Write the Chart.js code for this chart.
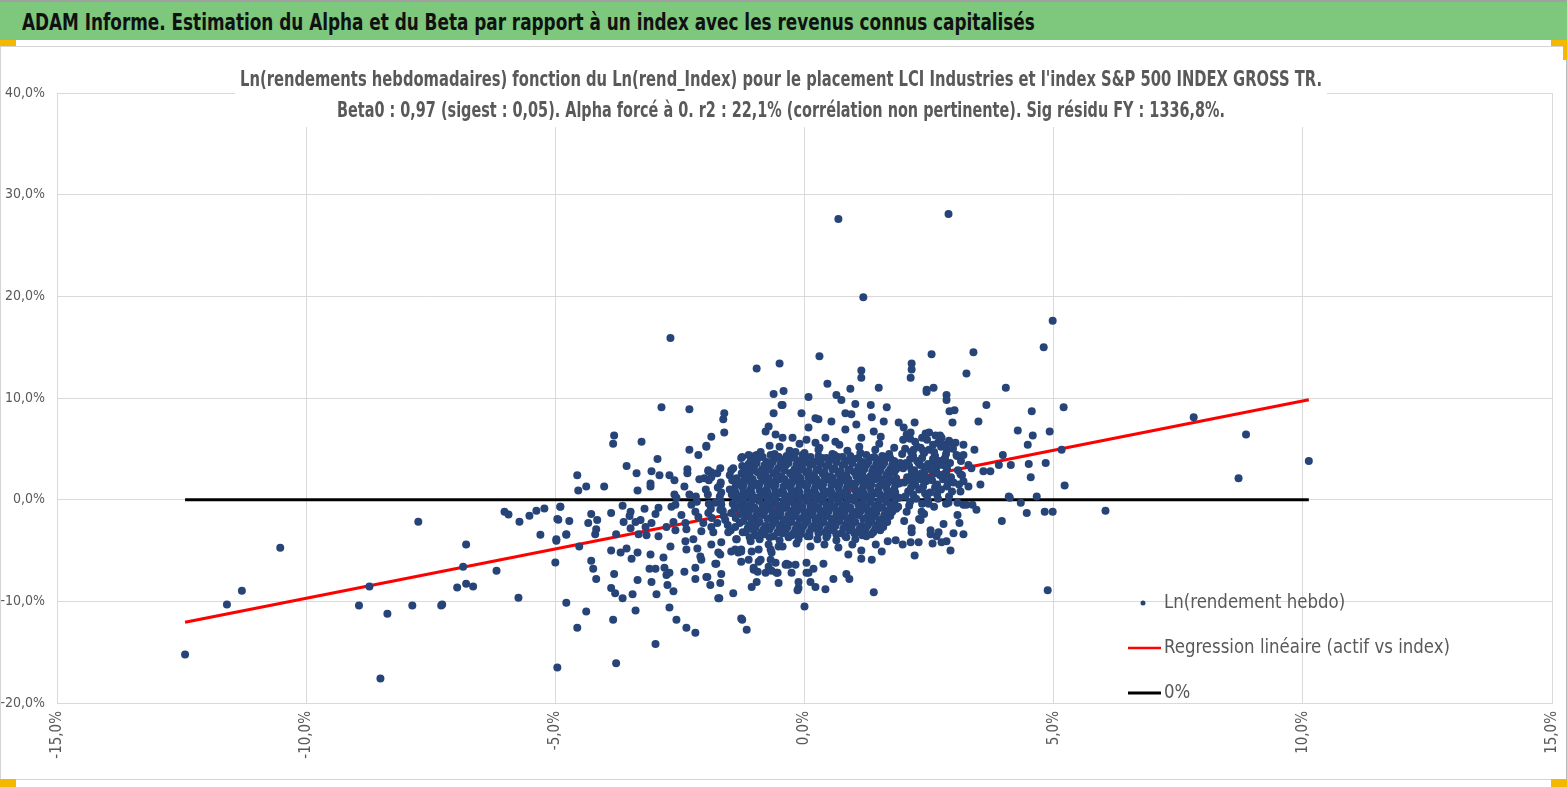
<!DOCTYPE html>
<html>
<head>
<meta charset="utf-8">
<script src="https://cdn.jsdelivr.net/npm/chart.js@4.4.1/dist/chart.umd.min.js"></script>
<style>
body{margin:0;width:1567px;height:787px;overflow:hidden;background:#fff;font-family:"Liberation Sans Narrow","DejaVu Sans Condensed",sans-serif}
#head{position:absolute;left:0;top:0;width:1567px;height:40px;background:#7ec87e;border-top:2px solid #a0a0a0;box-sizing:border-box}
#head span{position:absolute;left:22px;top:7px;font-weight:bold;font-size:23px;color:#111;white-space:nowrap;transform-origin:0 0}
#frame{position:absolute;left:0;top:46px;width:1565px;height:732px;border:1px solid #d4d4d4;border-right-color:#bbb}
#box{position:absolute;left:0;top:44px;width:1567px;height:734px}
.h{position:absolute;background:#f5b800}
</style>
</head>
<body>
<div id="head"><span id="headTxt">ADAM Informe. Estimation du Alpha et du Beta par rapport à un index avec les revenus connus capitalisés</span></div>
<div id="frame"></div>
<div class="h" style="left:0;top:40px;width:16px;height:6px"></div>
<div class="h" style="left:1551px;top:40px;width:16px;height:6px"></div>
<div class="h" style="left:1563px;top:40px;width:4px;height:20px"></div>
<div class="h" style="left:0;top:779px;width:16px;height:8px"></div>
<div class="h" style="left:1551px;top:779px;width:16px;height:8px"></div>
<div id="box"><canvas id="c"></canvas></div>
<script>
// Ln(rend index) %, Ln(rend actif) % : points, par zone
var tailPoints = [[-12.43,-15.24],[-11.59,-10.32],[-11.29,-8.95],[-10.52,-4.72],[-8.94,-10.42],[-8.73,-8.55],[-8.51,-17.6],[-8.37,-11.21],[-7.87,-10.42],[-7.75,-2.16],[-7.29,-10.42],[-7.27,-10.32],[-6.97,-8.65],[-6.85,-6.59],[-6.79,-4.42],[-6.79,-8.26],[-6.65,-8.55],[-6.18,-6.98],[-6.02,-1.18],[-5.94,-1.47],[-5.74,-9.64],[-5.72,-2.16],[-5.52,-1.57],[-5.38,-1.08],[-5.3,-3.44],[-5.22,-0.88],[-5.0,-6.19],[-4.98,-4.03],[-4.96,-16.52],[-4.94,-1.97],[-4.9,-0.69],[-4.78,-3.44],[-4.78,-10.13]];

var midLeft = [[-2.69,15.9],[-0.96,12.9],[-0.5,13.4],[-0.62,10.4],[-0.42,10.7],[-0.44,9.3],[0.08,10.1],[-2.87,9.1],[-2.31,8.9],[-1.61,8.5],[-1.63,7.9],[-1.61,6.6],[-1.87,6.2],[-3.82,6.3],[-3.84,5.5],[-3.27,5.7],[-0.62,8.5],[-0.06,8.5],[-0.72,7.2],[-0.78,6.7],[-0.58,6.4],[-0.44,6.1],[-0.24,6.1],[-0.7,5.3],[-1.97,5.3],[-2.13,4.4],[-2.31,4.9],[-2.95,4.0],[-3.57,3.3],[-3.37,2.6],[-3.07,2.8],[-2.91,2.4],[-2.71,2.4],[-2.61,1.9],[-2.35,2.6],[-2.35,3.0],[-2.11,2.0],[-4.56,2.4],[-4.54,0.9],[-4.38,1.3],[-4.02,1.3],[-3.35,0.9],[-3.09,1.6],[-3.09,1.3],[-2.41,1.3],[-2.61,0.5],[-2.57,0.2],[-2.31,0.5],[-2.01,2.1],[-1.93,2.8],[-1.87,2.7],[-1.69,3.1],[-1.47,2.9],[-1.25,3.3],[-1.12,3.2],[-0.96,4.4],[-1.25,4.2],[-1.06,4.2],[-1.69,1.5],[-1.67,0.7],[-1.43,0.8],[-1.33,1.5],
[-4.96,-1.9],[-4.9,-0.7],[-4.72,-2.1],[-4.98,-3.9],[-4.78,-3.4],[-4.52,-4.6],[-4.38,-11.0],[-4.56,-12.6],[-3.78,-16.1],[-2.99,-14.2],[-3.84,-11.8],[-3.39,-10.9],[-3.88,-8.7],[-3.8,-9.2],[-3.65,-9.7],[-3.45,-9.3],[-2.97,-9.3],[-2.71,-10.6],[-2.57,-11.8],[-2.37,-12.6],[-2.19,-13.1],[-1.25,-11.8],[-1.16,-12.8],[-1.73,-9.7],[-1.43,-9.2],[-1.06,-8.6],[-0.96,-8.1],[0.0,-10.5],[-0.12,-8.7],[-4.28,-6.0],[-4.24,-6.8],[-4.18,-7.8],[-3.82,-7.3],[-3.88,-5.0],[-3.69,-5.2],[-3.57,-4.8],[-3.47,-5.8],[-3.35,-5.2],[-3.09,-5.4],[-3.11,-6.8],[-2.99,-6.8],[-3.35,-7.9],[-3.07,-8.1],[-2.81,-6.7],[-2.77,-7.4],[-2.71,-7.2],[-2.75,-8.4],[-2.63,-9.0],[-2.41,-7.1],[-2.19,-6.7],[-2.19,-7.8],[-1.95,-7.6],[-1.89,-8.4],[-1.69,-8.2],[-1.67,-7.3],[-1.69,-5.4],[-1.79,-6.3],[-2.09,-5.6],[-2.07,-5.9],[-2.15,-4.8],[-2.37,-4.9],[-2.23,-3.9],[-2.39,-4.1],[-2.69,-4.6],[-2.83,-5.7],
[-4.18,-2.9],[-4.2,-3.4],[-4.34,-2.3],[-4.28,-1.4],[-4.16,-2.0],[-3.88,-1.3],[-3.65,-0.6],[-3.49,-1.2],[-3.51,-1.6],[-3.63,-2.2],[-3.78,-3.4],[-3.49,-2.8],[-3.39,-2.2],[-3.29,-2.0],[-3.21,-0.9],[-3.19,-2.7],[-3.07,-2.3],[-2.99,-1.4],[-2.93,-0.8],[-3.33,-3.4],[-3.17,-3.5],[-2.93,-3.6],[-2.77,-2.7],[-2.63,-2.2],[-2.59,-3.0],[-2.47,-1.5],[-2.39,-2.3],[-2.37,-2.9],[-2.27,-0.5],[-2.19,-1.2],[-2.13,-1.7],[-2.03,-2.3],[-2.07,-3.1],[-1.93,-1.3],[-1.87,-2.7],[-1.83,-3.2],[-1.75,-2.3],[-1.69,-1.0],[-1.67,-0.5],[-1.79,-0.3],[-1.59,-2.0],[-1.53,-3.2],[-1.47,-1.3],[-1.39,-2.7],[-1.37,-3.9],[-1.33,-5.2],[-1.27,-4.9],[-1.18,-0.7],[-1.18,-3.2],[-1.12,-5.9],[-1.02,-6.9],[-0.92,-4.9],[-0.88,-5.9],[-0.78,-7.2],[-0.72,-6.6],[-0.66,-5.2],[-0.58,-6.2],[-0.52,-4.6],[-0.56,-7.2],[-0.38,-6.4],[-0.32,-6.4],[-0.18,-6.4],[-0.12,-8.1],[0.04,-7.2],[-0.52,-8.2],[-2.67,-0.7],[-2.59,-0.5]];

var coreCloud = [[-0.5,5.2],[-0.1,5.5],[0.3,5.1],[0.7,5.4],[1.1,5.2],[1.5,5.5],[1.8,5.1],
[-0.88,4.7],[-0.6,4.5],[-0.3,4.8],[0.0,4.6],[0.28,4.9],[0.56,4.5],[0.86,4.8],[1.12,4.6],[1.42,4.9],[1.7,4.5],
[-1.08,3.8],[-0.93,4.1],[-0.76,3.7],[-0.61,4.0],[-0.44,3.9],[-0.29,4.2],[-0.12,3.8],[0.03,4.0],[0.2,3.7],[0.35,4.1],[0.52,3.9],[0.67,4.2],[0.84,3.8],[0.99,4.0],[1.16,3.7],[1.31,4.1],[1.48,3.9],[1.63,4.2],[1.8,3.8],
[-1.17,3.1],[-1.01,3.3],[-0.85,3.0],[-0.69,3.3],[-0.53,3.1],[-0.37,3.4],[-0.2,3.0],[-0.05,3.2],[0.11,3.4],[0.28,3.0],[0.43,3.3],[0.6,3.1],[0.76,3.4],[0.91,3.0],[1.08,3.2],[1.24,3.4],[1.39,3.1],[1.56,3.3],[1.72,3.0],[1.88,3.2],
[-1.26,2.6],[-1.1,2.4],[-0.94,2.7],[-0.78,2.4],[-0.62,2.6],[-0.46,2.3],[-0.29,2.6],[-0.13,2.4],[0.03,2.7],[0.19,2.4],[0.36,2.6],[0.52,2.3],[0.68,2.6],[0.84,2.4],[1.0,2.7],[1.16,2.5],[1.32,2.3],[1.48,2.6],[1.64,2.4],[1.8,2.7],
[-1.3,1.7],[-1.14,1.9],[-0.98,1.6],[-0.82,1.9],[-0.66,1.7],[-0.5,2.0],[-0.34,1.7],[-0.18,1.9],[-0.02,1.6],[0.14,1.9],[0.3,1.7],[0.46,2.0],[0.62,1.7],[0.78,1.9],[0.94,1.6],[1.1,1.9],[1.26,1.7],[1.42,2.0],[1.58,1.7],[1.74,1.9],[1.9,1.6],
[-1.24,1.2],[-1.08,1.0],[-0.92,1.3],[-0.76,1.0],[-0.6,1.2],[-0.44,0.9],[-0.28,1.2],[-0.12,1.0],[0.04,1.3],[0.2,1.0],[0.36,1.2],[0.52,0.9],[0.68,1.2],[0.84,1.0],[1.0,1.3],[1.16,1.0],[1.32,1.2],[1.48,0.9],[1.64,1.2],[1.8,1.0],
[-1.3,0.3],[-1.14,0.5],[-0.98,0.2],[-0.82,0.5],[-0.66,0.3],[-0.5,0.6],[-0.34,0.3],[-0.18,0.5],[-0.02,0.2],[0.14,0.5],[0.3,0.3],[0.46,0.6],[0.62,0.3],[0.78,0.5],[0.94,0.2],[1.1,0.5],[1.26,0.3],[1.42,0.6],[1.58,0.3],[1.74,0.5],[1.9,0.2],
[-1.24,-0.2],[-1.08,-0.4],[-0.92,-0.1],[-0.76,-0.4],[-0.6,-0.2],[-0.44,-0.5],[-0.28,-0.2],[-0.12,-0.4],[0.04,-0.1],[0.2,-0.4],[0.36,-0.2],[0.52,-0.5],[0.68,-0.2],[0.84,-0.4],[1.0,-0.1],[1.16,-0.4],[1.32,-0.2],[1.48,-0.5],[1.64,-0.2],[1.8,-0.4],
[-1.2,-1.1],[-1.04,-0.9],[-0.88,-1.2],[-0.72,-0.9],[-0.56,-1.1],[-0.4,-0.8],[-0.24,-1.1],[-0.08,-0.9],[0.08,-1.2],[0.24,-0.9],[0.4,-1.1],[0.56,-0.8],[0.72,-1.1],[0.88,-0.9],[1.04,-1.2],[1.2,-0.9],[1.36,-1.1],[1.52,-0.8],[1.68,-1.1],[1.84,-0.9],
[-1.16,-1.6],[-1.0,-1.8],[-0.84,-1.5],[-0.68,-1.8],[-0.52,-1.6],[-0.36,-1.9],[-0.2,-1.6],[-0.04,-1.8],[0.12,-1.5],[0.28,-1.8],[0.44,-1.6],[0.6,-1.9],[0.76,-1.6],[0.92,-1.8],[1.08,-1.5],[1.24,-1.8],[1.4,-1.6],[1.56,-1.9],[1.72,-1.6],
[-1.1,-2.5],[-0.94,-2.3],[-0.78,-2.6],[-0.62,-2.3],[-0.46,-2.5],[-0.3,-2.2],[-0.14,-2.5],[0.02,-2.3],[0.18,-2.6],[0.34,-2.3],[0.5,-2.5],[0.66,-2.2],[0.82,-2.5],[0.98,-2.3],[1.14,-2.6],[1.3,-2.3],[1.46,-2.5],[1.62,-2.2],
[-1.02,-3.0],[-0.86,-3.2],[-0.7,-2.9],[-0.54,-3.2],[-0.38,-3.0],[-0.22,-3.3],[-0.06,-3.0],[0.1,-3.2],[0.26,-2.9],[0.42,-3.2],[0.58,-3.0],[0.74,-3.3],[0.9,-3.0],[1.06,-3.2],[1.22,-2.9],[1.38,-3.2],[1.52,-3.0],
[-0.9,-3.9],[-0.7,-3.7],[-0.5,-4.0],[-0.32,-3.7],[-0.12,-3.9],[0.06,-3.6],[0.26,-3.9],[0.44,-3.7],[0.64,-4.0],[0.84,-3.7],[1.02,-3.9],[1.24,-3.6],
[-0.72,-4.4],[-0.44,-4.6],[-0.16,-4.3],[0.12,-4.6],[0.4,-4.4],[0.68,-4.7],[0.96,-4.4],
[2.05,6.4],[2.5,6.6],[2.72,6.3],[1.98,5.9],[2.22,5.7],[2.46,5.9],[2.68,5.6],[2.9,5.8],[2.02,5.0],[2.26,5.2],[2.5,4.9],[2.74,5.2],[2.98,5.0],[1.96,4.5],[2.18,4.3],[2.4,4.6],[2.62,4.3],[2.84,4.5],[3.06,4.3],[2.04,3.6],[2.26,3.8],[2.48,3.5],[2.7,3.8],[2.92,3.6],[3.14,3.8],[1.98,3.1],[2.2,2.9],[2.42,3.2],[2.64,2.9],[2.86,3.1],[3.08,2.9],[2.06,2.2],[2.28,2.4],[2.5,2.1],[2.72,2.4],[2.94,2.2],[3.16,2.4],[2.0,1.7],[2.22,1.5],[2.44,1.8],[2.66,1.5],[2.88,1.7],[3.1,1.5],[2.08,0.8],[2.3,1.0],[2.52,0.7],[2.74,1.0],[2.96,0.8],[2.02,0.3],[2.24,0.1],[2.46,0.4],[2.68,0.1],[2.9,0.3],[2.1,-0.6],[2.36,-0.4],[2.6,-0.7],[2.84,-0.4],[2.05,-1.2],[2.4,-1.4],[2.0,-2.1],[2.3,-1.9],
[-1.5,2.4],[-1.75,2.6],[-1.45,1.9],[-1.68,1.7],[-1.92,1.9],[-1.5,1.0],[-1.74,1.2],[-1.98,1.0],[-1.46,0.5],[-1.7,0.3],[-1.94,0.5],[-2.18,0.3],[-1.44,-0.4],[-1.68,-0.2],[-1.92,-0.4],[-2.16,-0.2],[-1.4,-0.9],[-1.64,-1.1],[-1.88,-0.9],[-1.38,-1.8],[-1.62,-1.6],[-1.86,-1.8],[-1.3,-2.3],[-1.54,-2.5],[-1.24,-3.2],[-1.48,-3.0],[-1.1,-3.7],[-1.36,-3.9]];

// le coeur du nuage est presque plein : points intercales
var coreFill = [[-1.0,4.3],[-0.84,4.2],[-0.68,4.4],[-0.52,4.2],[-0.36,4.3],[-0.2,4.1],[-0.04,4.4],[0.12,4.2],[0.28,4.3],[0.44,4.1],[0.6,4.4],[0.76,4.2],[0.92,4.3],[1.08,4.1],[1.24,4.4],[1.4,4.2],[1.56,4.3],[1.72,4.1],
[-1.12,3.5],[-0.96,3.6],[-0.8,3.4],[-0.64,3.7],[-0.48,3.5],[-0.32,3.6],[-0.16,3.4],[0.0,3.7],[0.16,3.5],[0.32,3.6],[0.48,3.4],[0.64,3.7],[0.8,3.5],[0.96,3.6],[1.12,3.4],[1.28,3.7],[1.44,3.5],[1.6,3.6],[1.76,3.4],[1.92,3.6],
[-1.2,2.8],[-1.04,2.9],[-0.88,2.7],[-0.72,3.0],[-0.56,2.8],[-0.4,2.9],[-0.24,2.7],[-0.08,3.0],[0.08,2.8],[0.24,2.9],[0.4,2.7],[0.56,3.0],[0.72,2.8],[0.88,2.9],[1.04,2.7],[1.2,3.0],[1.36,2.8],[1.52,2.9],[1.68,2.7],[1.84,3.0],
[-1.36,2.1],[-1.2,2.2],[-1.04,2.0],[-0.88,2.3],[-0.72,2.1],[-0.56,2.2],[-0.4,2.0],[-0.24,2.3],[-0.08,2.1],[0.08,2.2],[0.24,2.0],[0.4,2.3],[0.56,2.1],[0.72,2.2],[0.88,2.0],[1.04,2.3],[1.2,2.1],[1.36,2.2],[1.52,2.0],[1.68,2.3],[1.84,2.1],
[-1.38,1.4],[-1.22,1.5],[-1.06,1.3],[-0.9,1.6],[-0.74,1.4],[-0.58,1.5],[-0.42,1.3],[-0.26,1.6],[-0.1,1.4],[0.06,1.5],[0.22,1.3],[0.38,1.6],[0.54,1.4],[0.7,1.5],[0.86,1.3],[1.02,1.6],[1.18,1.4],[1.34,1.5],[1.5,1.3],[1.66,1.6],[1.82,1.4],
[-1.38,0.7],[-1.22,0.8],[-1.06,0.6],[-0.9,0.9],[-0.74,0.7],[-0.58,0.8],[-0.42,0.6],[-0.26,0.9],[-0.1,0.7],[0.06,0.8],[0.22,0.6],[0.38,0.9],[0.54,0.7],[0.7,0.8],[0.86,0.6],[1.02,0.9],[1.18,0.7],[1.34,0.8],[1.5,0.6],[1.66,0.9],[1.82,0.7],
[-1.38,0.0],[-1.22,0.1],[-1.06,-0.1],[-0.9,0.2],[-0.74,0.0],[-0.58,0.1],[-0.42,-0.1],[-0.26,0.2],[-0.1,0.0],[0.06,0.1],[0.22,-0.1],[0.38,0.2],[0.54,0.0],[0.7,0.1],[0.86,-0.1],[1.02,0.2],[1.18,0.0],[1.34,0.1],[1.5,-0.1],[1.66,0.2],[1.82,0.0],
[-1.32,-0.7],[-1.16,-0.6],[-1.0,-0.8],[-0.84,-0.5],[-0.68,-0.7],[-0.52,-0.6],[-0.36,-0.8],[-0.2,-0.5],[-0.04,-0.7],[0.12,-0.6],[0.28,-0.8],[0.44,-0.5],[0.6,-0.7],[0.76,-0.6],[0.92,-0.8],[1.08,-0.5],[1.24,-0.7],[1.4,-0.6],[1.56,-0.8],[1.72,-0.5],[1.88,-0.7],
[-1.28,-1.4],[-1.12,-1.3],[-0.96,-1.5],[-0.8,-1.2],[-0.64,-1.4],[-0.48,-1.3],[-0.32,-1.5],[-0.16,-1.2],[0.0,-1.4],[0.16,-1.3],[0.32,-1.5],[0.48,-1.2],[0.64,-1.4],[0.8,-1.3],[0.96,-1.5],[1.12,-1.2],[1.28,-1.4],[1.44,-1.3],[1.6,-1.5],[1.76,-1.2],
[-1.22,-2.1],[-1.06,-2.0],[-0.9,-2.2],[-0.74,-1.9],[-0.58,-2.1],[-0.42,-2.0],[-0.26,-2.2],[-0.1,-1.9],[0.06,-2.1],[0.22,-2.0],[0.38,-2.2],[0.54,-1.9],[0.7,-2.1],[0.86,-2.0],[1.02,-2.2],[1.18,-1.9],[1.34,-2.1],[1.5,-2.0],[1.66,-2.2],
[-1.14,-2.8],[-0.98,-2.7],[-0.82,-2.9],[-0.66,-2.6],[-0.5,-2.8],[-0.34,-2.7],[-0.18,-2.9],[-0.02,-2.6],[0.14,-2.8],[0.3,-2.7],[0.46,-2.9],[0.62,-2.6],[0.78,-2.8],[0.94,-2.7],[1.1,-2.9],[1.26,-2.6],[1.42,-2.8],[1.58,-2.7],
[-0.98,-3.5],[-0.8,-3.4],[-0.62,-3.6],[-0.44,-3.3],[-0.26,-3.5],[-0.08,-3.4],[0.1,-3.6],[0.28,-3.3],[0.46,-3.5],[0.64,-3.4],[0.82,-3.6],[1.0,-3.3],[1.16,-3.5],[1.34,-3.4],
[2.12,6.0],[2.36,6.1],[2.58,5.4],[2.8,5.4],[2.14,4.7],[2.38,4.8],[2.6,4.7],[2.86,4.9],[2.12,4.0],[2.36,4.1],[2.58,4.0],[2.82,4.1],[2.1,3.3],[2.32,3.4],[2.56,3.3],[2.78,3.4],[2.16,2.6],[2.4,2.7],[2.62,2.6],[2.84,2.7],[2.12,1.9],[2.34,2.0],[2.56,1.9],[2.78,2.0],[2.14,1.2],[2.38,1.3],[2.62,1.2],[2.86,1.3],[2.18,0.5],[2.42,0.6],[2.66,0.5],[2.12,-0.2],[2.48,-0.1]];

var upperCenter = [[0.46,11.4],[0.92,10.9],[0.64,10.3],[0.74,9.8],[1.49,11.0],[-0.46,9.3],[1.02,9.4],[1.33,9.3],[1.65,9.1],[0.22,8.0],[0.28,7.9],[0.54,7.7],[0.82,8.5],[0.94,8.4],[1.04,7.4],[1.35,8.1],[1.59,7.7],[0.08,7.1],[0.82,6.9],[1.39,6.7],[-1.97,5.2],[0.04,5.9],[0.22,5.6],[0.42,6.1],[0.62,5.7],[1.14,6.1],[1.53,6.2],[-1.12,4.4],[-1.27,4.1],[-1.08,3.7],[-0.52,4.2],[-0.18,4.7],[-1.43,3.1],[-1.93,2.9],[-1.87,2.2],
[-1.87,-4.4],[-1.67,-4.2],[-1.73,-5.2],[-1.77,-6.3],[-1.47,-5.1],[-1.39,-4.9],[-1.27,-5.1],[-1.27,-6.1],[-1.08,-4.1],[-1.06,-5.1],[-1.02,-6.7],[-0.92,-6.1],[-0.94,-7.1],[-0.68,-4.9],[-0.68,-5.9],[-0.66,-7.0],[-0.54,-7.2],[-0.36,-6.3],[-0.26,-7.2],[-0.14,-8.9],[0.04,-6.2],[0.08,-7.2],[0.18,-6.8],[0.12,-8.1],[0.22,-8.6],[0.42,-8.8],[0.38,-6.3],[0.58,-7.8],[0.84,-7.3],[0.9,-7.8],[0.88,-5.4],[1.14,-5.0],[1.14,-5.8],[1.35,-5.9],[1.39,-9.1],[1.55,-5.1],[1.43,-4.4],[-1.27,-11.7],[-1.71,-9.7],[-1.97,-7.6]];

var rightSide = [[0.68,27.6],[2.89,28.1],[1.18,19.9],[4.98,17.6],[4.8,15.0],[0.3,14.1],[2.55,14.3],[3.39,14.5],[2.15,13.4],[2.15,12.8],[2.13,12.0],[1.14,12.7],[1.14,12.0],[3.25,12.4],[2.45,10.6],[4.04,11.0],[3.65,9.3],[4.56,8.7],[3.49,7.7],[4.28,6.8],[4.92,6.7],[4.58,6.3],[3.98,4.4],[4.48,5.4],[4.84,3.6],[4.54,2.2],[5.2,9.1],[7.81,8.1],[8.86,6.4],[10.12,3.8],[8.71,2.1],[5.16,4.9],[5.22,1.4],[4.82,-1.2],[4.98,-1.2],[6.04,-1.1],[4.88,-8.9],
[3.9,3.4],[4.14,3.4],[4.5,3.5],[3.73,2.8],[3.59,2.8],[3.53,1.5],[4.1,0.3],[4.12,0.2],[4.34,-0.3],[4.66,0.3],[4.46,-1.3],[3.96,-2.1],[3.45,-1.0],[3.19,-3.4],[2.93,-5.0],[2.85,-4.1],[2.99,-3.3],[2.79,-2.4],[2.69,-3.2],[2.65,-3.6],[2.75,-4.2],[2.53,-3.0],[2.53,-3.4],[2.57,-4.3],[2.21,-5.5],[2.13,-4.2],[1.97,-4.4],[1.83,-4.0],[1.67,-4.1],[2.29,-4.2],[2.15,-3.2],[2.15,-2.8],[2.35,-1.2],[2.33,-2.0],[3.07,-1.5],[3.11,-2.3],[3.19,-0.5],[3.25,-0.5],[3.37,-0.5],[2.49,-0.4],[2.89,-0.3],[3.07,-0.3],[2.45,10.8],[2.59,11.0],[2.85,10.3],[2.85,9.8],[2.91,8.7],[3.01,8.8],[2.97,7.6],[2.63,6.3],[2.75,6.1],[2.43,6.5],[2.93,5.6],[3.03,5.6],[3.19,5.4],[3.41,4.9],[3.19,4.4],[3.05,4.4],[3.29,3.4],[3.35,3.1],[3.13,2.5],[3.19,1.8],[3.29,1.3],[3.13,0.8],[2.99,1.7],[2.83,2.5],[2.69,3.4],[2.55,2.9],[2.59,4.0],[2.79,3.9],[2.35,2.6],[2.43,2.0],[2.21,7.6],[1.89,7.6],[1.99,7.1],[2.23,2.0],[2.15,2.9],[2.29,3.6],[2.33,5.1],[2.19,4.9],[2.13,6.6]];

// droite de regression (beta 0,97, alpha force a 0) et ligne 0%
var regX = [-12.43, 10.12];
var regY = [-12.06, 9.82];
var zeroY = [0, 0];

var xTicks = [-15, -10, -5, 0, 5, 10, 15];
var yTicks = [-20, -10, 0, 10, 20, 30, 40];

var titleLines = [
  "Ln(rendements hebdomadaires) fonction du Ln(rend_Index) pour le placement LCI Industries et l'index S&P 500 INDEX GROSS TR.",
  "Beta0 : 0,97 (sigest : 0,05). Alpha forcé à 0. r2 : 22,1% (corrélation non pertinente). Sig résidu FY : 1336,8%."
];
var legendLabels = ["Ln(rendement hebdo)", "Regression linéaire (actif vs index)", "0%"];

var FONT = '"Liberation Sans Narrow","DejaVu Sans Condensed",sans-serif';
var GREY = '#595959';

// le bandeau vert doit faire la meme largeur que l'original
var ht = document.getElementById('headTxt');
ht.style.transform = 'scaleX(' + (1013 / ht.offsetWidth) + ')';

function pct(v) { return v.toFixed(1).replace('.', ',') + '%'; }

var allPoints = tailPoints.concat(midLeft, coreCloud, coreFill, upperCenter, rightSide);

var titlePlugin = {
  id: 'excelTitle',
  afterDraw: function (chart) {
    var ctx = chart.ctx;
    ctx.save();
    ctx.fillStyle = '#fff';
    ctx.fillRect(235, 21, 1092, 62);
    ctx.fillStyle = GREY;
    ctx.textBaseline = 'middle';
    ctx.textAlign = 'center';
    ctx.font = 'bold 21px ' + FONT;
    var widths = [1082, 888];
    var ys = [37, 68];
    for (var i = 0; i < titleLines.length; i++) {
      var w = ctx.measureText(titleLines[i]).width;
      ctx.save();
      ctx.translate(781, ys[i]);
      ctx.scale(widths[i] / w, 1);
      ctx.fillText(titleLines[i], 0, 0);
      ctx.restore();
    }
    ctx.restore();
  }
};

var legendPlugin = {
  id: 'innerLegend',
  afterDraw: function (chart) {
    var ctx = chart.ctx, a = chart.chartArea;
    var x0 = a.right - 424;
    var rows = [a.bottom - 100, a.bottom - 55, a.bottom - 10];
    ctx.save();
    ctx.font = '20px ' + FONT;
    ctx.textBaseline = 'middle';
    ctx.textAlign = 'left';
    ctx.beginPath();
    ctx.arc(x0 + 15, rows[0], 2.5, 0, Math.PI * 2);
    ctx.fillStyle = '#264478';
    ctx.fill();
    ctx.lineWidth = 2.5;
    ctx.strokeStyle = '#ff0000';
    ctx.beginPath(); ctx.moveTo(x0, rows[1]); ctx.lineTo(x0 + 33, rows[1]); ctx.stroke();
    ctx.lineWidth = 3;
    ctx.strokeStyle = '#000';
    ctx.beginPath(); ctx.moveTo(x0, rows[2]); ctx.lineTo(x0 + 33, rows[2]); ctx.stroke();
    ctx.fillStyle = GREY;
    // meme largeur que l'original pour la ligne la plus longue
    var k = 286 / ctx.measureText(legendLabels[1]).width;
    for (var i = 0; i < legendLabels.length; i++) {
      ctx.save();
      ctx.translate(x0 + 36, rows[i]);
      ctx.scale(k, 1);
      ctx.fillText(legendLabels[i], 0, 0);
      ctx.restore();
    }
    ctx.restore();
  }
};

new Chart(document.getElementById('c'), {
  type: 'scatter',
  data: {
    datasets: [
      {
        label: legendLabels[0],
        data: allPoints.map(function (p) { return { x: p[0], y: p[1] }; }),
        backgroundColor: '#264478',
        borderWidth: 0,
        pointRadius: 4
      },
      {
        label: legendLabels[1],
        data: regX.map(function (x, i) { return { x: x, y: regY[i] }; }),
        showLine: true,
        borderColor: '#ff0000',
        borderWidth: 3,
        pointRadius: 0
      },
      {
        label: legendLabels[2],
        data: regX.map(function (x, i) { return { x: x, y: zeroY[i] }; }),
        showLine: true,
        borderColor: '#000000',
        borderWidth: 3,
        pointRadius: 0
      }
    ]
  },
  options: {
    responsive: true,
    maintainAspectRatio: false,
    animation: false,
    layout: { padding: { top: 49, right: 15, left: 0, bottom: 0 } },
    plugins: { legend: { display: false }, tooltip: { enabled: false } },
    scales: {
      x: {
        type: 'linear', min: -15, max: 15,
        afterFit: function (s) { s.height = 75; s.paddingLeft = 0; s.paddingRight = 0; },
        afterBuildTicks: function (s) { s.ticks = xTicks.map(function (v) { return { value: v }; }); },
        grid: { color: '#d9d9d9', drawTicks: false },
        border: { color: '#d9d9d9' },
        ticks: {
          minRotation: 90, maxRotation: 90, padding: 8,
          color: GREY, font: { family: FONT, size: 15 },
          callback: function (v) { return pct(v); }
        }
      },
      y: {
        type: 'linear', min: -20, max: 40,
        afterFit: function (s) { s.width = 57; },
        afterBuildTicks: function (s) { s.ticks = yTicks.map(function (v) { return { value: v }; }); },
        grid: { color: '#d9d9d9', drawTicks: false },
        border: { color: '#d9d9d9' },
        ticks: {
          padding: 12,
          color: GREY, font: { family: FONT, size: 14 },
          callback: function (v) { return pct(v); }
        }
      }
    }
  },
  plugins: [titlePlugin, legendPlugin]
});
</script>
</body>
</html>
